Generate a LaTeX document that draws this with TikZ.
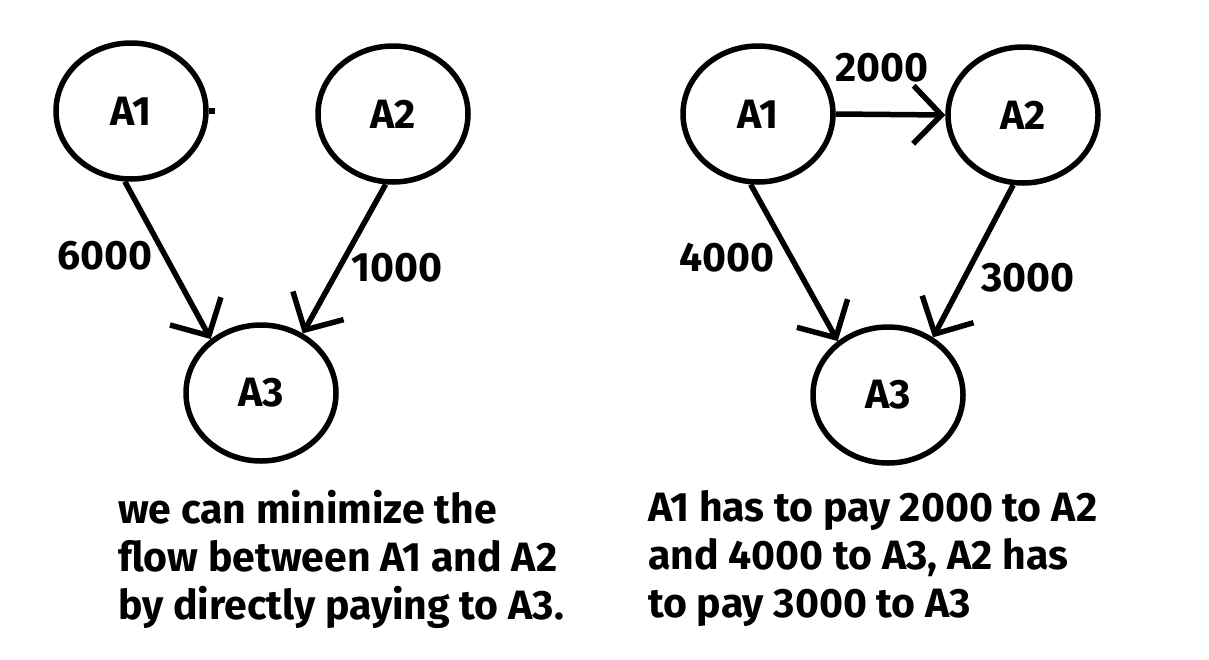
\documentclass[tikz,border=0pt]{standalone}
\usepackage{fontspec}
\setmainfont{Fira Sans}
\usetikzlibrary{shapes.geometric,arrows.meta}
\tikzset{
  acc/.style={ellipse, draw, line width=5.5pt, inner sep=0pt, minimum width=150pt, minimum height=136pt, font=\fontsize{41}{44}\selectfont\bfseries},
  pay/.style={line width=5.5pt, -{Straight Barb[length=28pt,width=58pt,line width=5.5pt]}},
  amt/.style={font=\fontsize{41}{44}\selectfont\bfseries, inner sep=0pt},
  note/.style={font=\fontsize{41}{46}\selectfont\bfseries, align=left, inner sep=0pt, anchor=north west}
}
\begin{document}
\begin{tikzpicture}[x=1pt,y=-1pt]
\useasboundingbox (0,0) rectangle (1209,659);
% left graph
\node[acc] (LA1) at (131,111) {A1};
\node[acc] (LA2) at (393,114) {A2};
\node[acc] (LA3) at (261,393) {A3};
\draw[pay] (LA1.-95) -- (LA3.133);
\draw[pay] (LA2.-96) -- (LA3.55);
\draw[line width=5.5pt] (LA1.east) -- ++(6,0);
\node[amt] (l6000) at (105,256) {6000};
\node[amt] (l1000) at (397,268) {1000};
\node[note] (lnote) at (118,490) {we can minimize the\\[2pt]flow between A1 and A2\\[2pt]by directly paying to A3.};
% right graph
\node[acc] (RA1) at (758,114) {A1};
\node[acc] (RA2) at (1023,115) {A2};
\node[acc] (RA3) at (888,395) {A3};
\draw[pay] (RA1.east) -- (RA2.west);
\draw[pay] (RA1.-96) -- (RA3.133);
\draw[pay] (RA2.-98) -- (RA3.52);
\node[amt] (r2000) at (882,68) {2000};
\node[amt] (r4000) at (727,258) {4000};
\node[amt] (r3000) at (1028,278) {3000};
\node[note] (rnote) at (648,490) {A1 has to pay 2000 to A2\\[2pt]and 4000 to A3, A2 has\\[2pt]to pay 3000 to A3};
\end{tikzpicture}
\end{document}
